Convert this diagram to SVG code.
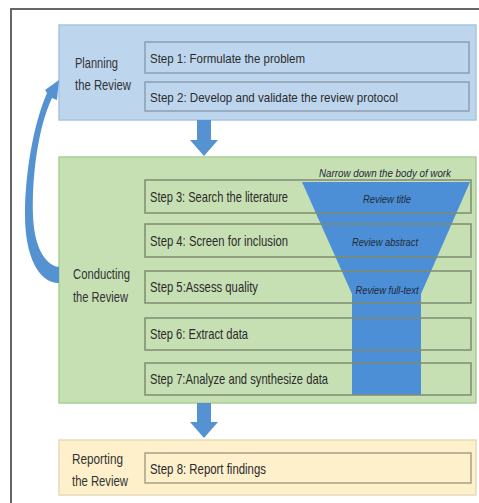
<svg xmlns="http://www.w3.org/2000/svg" width="479" height="503" viewBox="0 0 479 503">
<style>
.lbl{font-family:"Liberation Sans",Arial,sans-serif;font-size:15px;fill:#333}
.step{font-family:"Liberation Sans",Arial,sans-serif;font-size:15px;fill:#2b2b2b}
.stepS{font-family:"Liberation Sans",Arial,sans-serif;font-size:13.5px;fill:#2b2b2b}
.it{font-family:"Liberation Sans",Arial,sans-serif;font-size:11px;font-style:italic;fill:#1f2a38}
.sbB{fill:none;stroke:#8c9fb3;stroke-width:1.5}
.sbG{fill:none;stroke:#7d8c70;stroke-width:1.5}
.sbY{fill:none;stroke:#a8a08a;stroke-width:1.5}
.arr{fill:#5592d2}
</style>
<rect width="479" height="503" fill="#ffffff"/>
<rect x="11" y="9" width="480" height="500" fill="none" stroke="#666" stroke-width="2"/>

<g id="planning">
<rect x="59" y="25" width="417" height="95" fill="#bdd6ee" stroke="#a6c3e1" stroke-width="1.5"/>
<text class="lbl" x="75" y="68" textLength="43" lengthAdjust="spacingAndGlyphs">Planning</text>
<text class="lbl" x="75" y="90" textLength="56" lengthAdjust="spacingAndGlyphs">the Review</text>
</g>
<g id="step1">
<rect class="sbB" x="145" y="42" width="324" height="31"/>
<text class="stepS" x="150" y="63" textLength="155" lengthAdjust="spacingAndGlyphs">Step 1: Formulate the problem</text>
</g>
<g id="step2">
<rect class="sbB" x="145" y="82" width="324" height="29"/>
<text class="stepS" x="150" y="102" textLength="248" lengthAdjust="spacingAndGlyphs">Step 2: Develop and validate the review protocol</text>
</g>

<g id="conducting">
<rect x="59" y="157" width="417" height="246" fill="#c6e0b4" stroke="#a9cf94" stroke-width="1.5"/>
<text class="lbl" x="73" y="279" textLength="57" lengthAdjust="spacingAndGlyphs">Conducting</text>
<text class="lbl" x="73" y="302" textLength="55" lengthAdjust="spacingAndGlyphs">the Review</text>
</g>
<g id="funnel">
<polygon points="302,182 470,182 421,294 421,395 352,395 352,294" fill="#4d8fd6"/>
<text class="it" x="385" y="177" text-anchor="middle" textLength="132" lengthAdjust="spacingAndGlyphs">Narrow down the body of work</text>
<text class="it" x="387" y="203" text-anchor="middle" textLength="48" lengthAdjust="spacingAndGlyphs">Review title</text>
<text class="it" x="385" y="246" text-anchor="middle" textLength="66" lengthAdjust="spacingAndGlyphs">Review abstract</text>
<text class="it" x="387" y="294" text-anchor="middle" textLength="63" lengthAdjust="spacingAndGlyphs">Review full-text</text>
</g>
<g id="step3">
<rect class="sbG" x="145" y="180" width="326" height="33"/>
<text class="step" x="150" y="202" textLength="138" lengthAdjust="spacingAndGlyphs">Step 3: Search the literature</text>
</g>
<g id="step4">
<rect class="sbG" x="145" y="224" width="326" height="33"/>
<text class="step" x="150" y="246" textLength="138" lengthAdjust="spacingAndGlyphs">Step 4: Screen for inclusion</text>
</g>
<g id="step5">
<rect class="sbG" x="145" y="271" width="326" height="32"/>
<text class="step" x="150" y="292" textLength="108" lengthAdjust="spacingAndGlyphs">Step 5:Assess quality</text>
</g>
<g id="step6">
<rect class="sbG" x="145" y="318" width="326" height="32"/>
<text class="step" x="150" y="339" textLength="98" lengthAdjust="spacingAndGlyphs">Step 6: Extract data</text>
</g>
<g id="step7">
<rect class="sbG" x="145" y="363" width="326" height="32"/>
<text class="step" x="150" y="384" textLength="178" lengthAdjust="spacingAndGlyphs">Step 7:Analyze and synthesize data</text>
</g>

<g id="reporting">
<rect x="59" y="440" width="417" height="55" fill="#fdf0cb" stroke="#e6dcb8" stroke-width="1.5"/>
<text class="lbl" x="72" y="464" textLength="51" lengthAdjust="spacingAndGlyphs">Reporting</text>
<text class="lbl" x="72" y="486" textLength="56" lengthAdjust="spacingAndGlyphs">the Review</text>
</g>
<g id="step8">
<rect class="sbY" x="145" y="453" width="326" height="30"/>
<text class="step" x="150" y="474" textLength="116" lengthAdjust="spacingAndGlyphs">Step 8: Report findings</text>
</g>

<g id="connectors">
<polygon class="arr" points="197,120 211,120 211,140 218,140 204,156 190,140 197,140"/>
<polygon class="arr" points="197,403 211,403 211,422 218,422 204,438 190,422 197,422"/>
<path class="arr" d="M59,267 C44,265 34,245 33,215 C32,175 38,128 52,98 L57,100 L59,80 L45,90 L47,93 C33,125 25,175 25,215 C25,255 38,283 59,283 Z"/>
</g>
</svg>
